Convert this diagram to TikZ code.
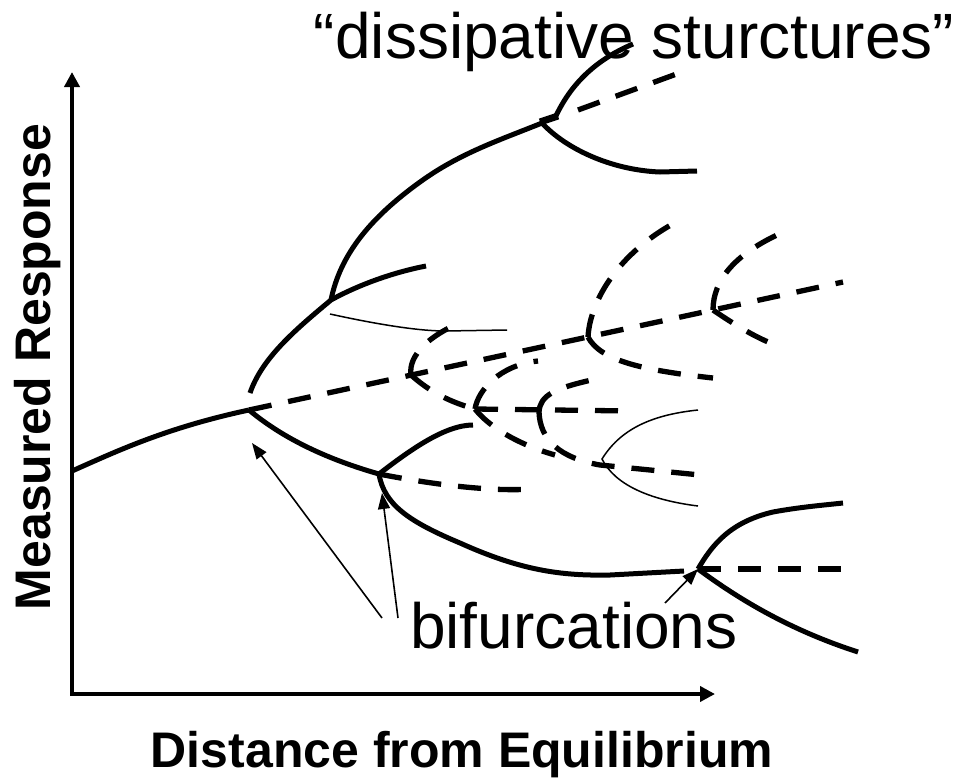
\documentclass[tikz,border=0pt]{standalone}
\usepackage{fontspec}
\setmainfont{Liberation Sans}
\usetikzlibrary{arrows.meta}
\tikzset{>={Triangle[width=12pt,length=16pt]}}

\begin{document}
\begin{tikzpicture}[x=1pt, y=-1pt,
      axis/.style = {line width=4.5pt, {Triangle[width=15pt,length=15pt]}-{Triangle[width=15pt,length=15pt]}},
      branch/.style = {line width=5pt},
      unstable/.style = {line width=5.3pt, dash pattern=on 23pt off 17pt},
      faint/.style = {line width=1.5pt},
      pointer/.style = {->, line width=1.6pt},
      big/.style = {font=\fontsize{64}{70}\selectfont},
      axlabel/.style = {font=\fontsize{50}{56}\selectfont\bfseries}
    ]
    \useasboundingbox (0,0) rectangle (957,779);

    % axes
    \coordinate (ytop) at (72,72);
    \coordinate (orig) at (72,694);
    \coordinate (xend) at (715,694);
    \draw[axis] (ytop) -- (orig) -- (xend);

    \node[axlabel, rotate=90, anchor=base] (ylab) at (50,367) {Measured Response};
    \node[axlabel, anchor=base] (xlab) at (462,767) {Distance from Equilibrium};
    \node[big, anchor=base] (title) at (634,58) {“dissipative sturctures”};
    \node[big, anchor=base west, inner sep=0pt] (bif) at (410,648) {bifurcations};

    % bifurcation points
    \coordinate (b1) at (249,410);
    \coordinate (b2) at (379,474);
    \coordinate (b3) at (698,569);
    \coordinate (b4) at (331,300);
    \coordinate (b5) at (542,123);
    \coordinate (c1) at (411,375);
    \coordinate (c2) at (588,337);
    \coordinate (c3) at (713,310);
    \coordinate (c4) at (539,412);
    \coordinate (b6) at (475,409);

    % stable branches
    \draw[branch] (72,471) .. controls (115,452) and (165,428) .. (b1);
    \draw[branch] (b1) .. controls (285,440) and (330,460) .. (b2);
    \draw[branch] (250,393) .. controls (262,358) and (295,330) .. (b4)
                  .. controls (360,284) and (395,272) .. (426,266);
    \draw[branch] (b4) .. controls (340,255) and (370,218) .. (420,182)
                  .. controls (460,153) and (500,140) .. (b5);
    \draw[branch, line width=7pt] (540,122) -- (558,116);
    \draw[branch] (555,118) .. controls (570,85) and (595,60) .. (633,44);
    \draw[branch] (b5) .. controls (565,148) and (610,170) .. (660,172) -- (697,171);
    \draw[branch] (b2) .. controls (410,450) and (445,425) .. (473,425);
    \draw[branch] (b2) .. controls (384,505) and (410,522) .. (460,543)
                  .. controls (520,570) and (560,576) .. (610,575) -- (684,571);
    \draw[branch] (b3) .. controls (712,545) and (730,522) .. (773,512)
                  .. controls (800,507) and (825,505) .. (843,503);
    \draw[branch] (b3) .. controls (740,600) and (790,630) .. (858,652);

    % unstable branches
    \draw[unstable] (b1) -- (843,282);
    \draw[unstable] (578,110) -- (682,72);
    \draw[unstable] (b2) .. controls (430,484) and (490,492) .. (533,489);
    \draw[unstable] (b3) -- (843,569);
    \draw[unstable] (c1) .. controls (408,355) and (430,335) .. (462,322);
    \draw[unstable] (c1) .. controls (430,392) and (450,402) .. (b6);
    \draw[unstable] (b6) -- (633,411);
    \draw[unstable] (b6) .. controls (478,390) and (500,365) .. (538,361);
    \draw[unstable] (b6) .. controls (490,428) and (520,445) .. (555,455);
    \draw[unstable] (c4) .. controls (540,395) and (555,388) .. (596,379);
    \draw[unstable] (c4) .. controls (540,440) and (560,458) .. (600,465) -- (700,475);
    \draw[unstable] (c2) .. controls (590,300) and (620,250) .. (682,219);
    \draw[unstable] (c2) .. controls (600,360) and (640,370) .. (713,378);
    \draw[unstable] (c3) .. controls (713,280) and (735,255) .. (777,235);
    \draw[unstable] (c3) .. controls (735,325) and (755,337) .. (773,344);

    % thin traces
    \draw[faint] (330,314) .. controls (380,325) and (420,331) .. (445,331) -- (507,330);
    \draw[faint] (698,410) .. controls (650,415) and (620,430) .. (602,459)
                 .. controls (615,485) and (650,500) .. (698,506);

    % pointers to the bifurcations
    \coordinate (s1) at (382,618);
    \coordinate (s2) at (398,618);
    \coordinate (s3) at (665,603);
    \coordinate (t1) at (252,443);
    \coordinate (t2) at (382,493);
    \draw[pointer] (s1) -- (t1);
    \draw[pointer] (s2) -- (t2);
    \draw[pointer] (s3) -- (b3);

\end{tikzpicture}
\end{document}
